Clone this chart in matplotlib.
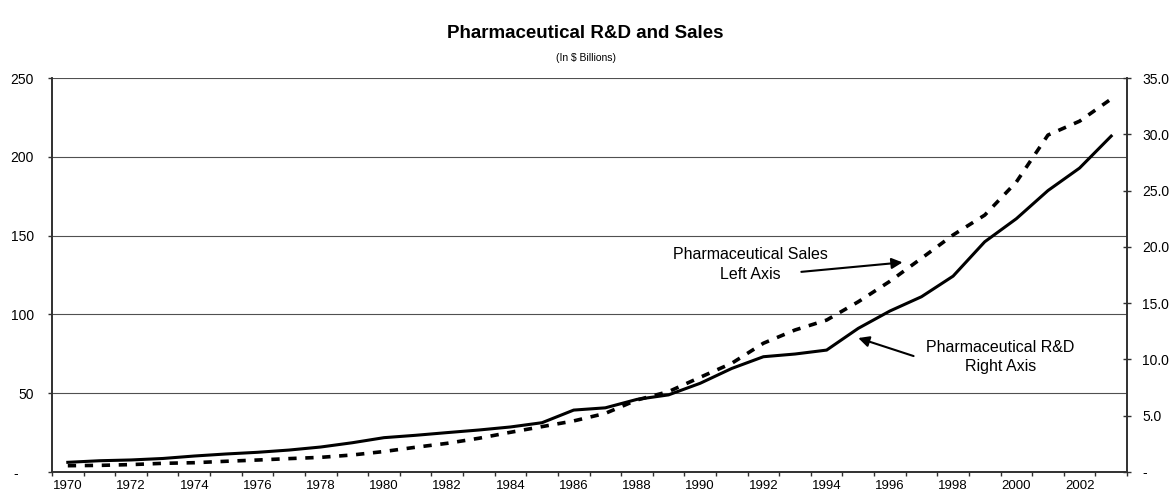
import numpy as np
import matplotlib
matplotlib.use('Agg')
import matplotlib.pyplot as plt
from matplotlib.ticker import FuncFormatter

plt.rcParams['font.family'] = ['Liberation Sans', 'DejaVu Sans']

years = list(range(1970, 2004))

# $ billions
sales = [4.0, 4.2, 4.7, 5.5, 5.9, 6.8, 7.6, 8.5, 9.3, 10.8,
         13.0, 15.7, 18.2, 21.4, 25.2, 28.8, 32.4, 37.2, 45.7, 51.0,
         60.1, 69.0, 81.7, 90.1, 96.4, 108.0, 121.0, 135.6, 150.4, 163.0,
         184.0, 213.8, 222.6, 236.7]
rnd = [0.86, 1.0, 1.07, 1.2, 1.42, 1.6, 1.75, 1.95, 2.22, 2.6,
       3.05, 3.26, 3.5, 3.73, 4.0, 4.38, 5.5, 5.7, 6.45, 6.85,
       7.88, 9.2, 10.24, 10.48, 10.83, 12.76, 14.3, 15.57, 17.4, 20.45,
       22.5, 25.0, 27.0, 29.84]

left_ticks = [0, 50, 100, 150, 200, 250]
right_ticks = [0, 5, 10, 15, 20, 25, 30, 35]

x = np.arange(len(years))

fig = plt.figure(figsize=(11.71, 4.95), dpi=100)
ax1 = fig.add_axes([52 / 1171, 23 / 495, 1075 / 1171, 394 / 495])
ax2 = ax1.twinx()

ax1.set_xlim(-0.5, len(years) - 0.5)
ax1.set_ylim(0, 250)
ax2.set_ylim(0, 35)

# sales on the left scale, R&D on the right scale
ax1.plot(x, sales, color='black', lw=2.6, linestyle=(0, (2.3, 2.4)))
ax2.plot(x, rnd, color='black', lw=2.2, solid_joinstyle='miter')

ax1.set_yticks(left_ticks)
ax1.yaxis.grid(True, color='#505050', lw=0.8)
ax1.set_axisbelow(True)
ax1.yaxis.set_major_formatter(FuncFormatter(lambda v, p: '-    ' if v == 0 else f'{v:.0f}'))
ax2.set_yticks(right_ticks)
ax2.yaxis.set_major_formatter(FuncFormatter(lambda v, p: '-' if v == 0 else f'{v:.1f}'))

# category axis: ticks between years, labels every other year
ax1.set_xticks(np.arange(-0.5, len(years)), labels=[''] * (len(years) + 1))
ax1.set_xticks(x[::2], labels=[str(y) for y in years[::2]], minor=True)
ax1.tick_params(axis='x', which='major', direction='out', length=3, width=1, color='#303030')
ax1.tick_params(axis='x', which='minor', length=0, pad=6, labelsize=9.5)
ax1.tick_params(axis='y', direction='out', length=3, width=1, color='#303030', pad=10, labelsize=10)
ax2.tick_params(axis='y', direction='inout', length=6, width=1, color='#303030', pad=8, labelsize=10)

for ax in (ax1, ax2):
    ax.spines['top'].set_visible(False)
    for s in ('left', 'right', 'bottom'):
        ax.spines[s].set_color('#303030')
        ax.spines[s].set_linewidth(1.2)

arrow = dict(arrowstyle='-|>', color='black', lw=1.5, mutation_scale=16, shrinkA=0, shrinkB=0)
ax1.annotate('', xy=(26.4, 133), xytext=(23.2, 127), arrowprops=arrow)
ax1.text(21.6, 131.7, 'Pharmaceutical Sales\nLeft Axis', ha='center', va='center',
         fontsize=11.5, linespacing=1.35)
ax2.annotate('', xy=(25.0, 11.9), xytext=(26.75, 10.3), arrowprops=arrow)
ax2.text(29.5, 10.2, 'Pharmaceutical R&D\nRight Axis', ha='center', va='center',
         fontsize=11.5, linespacing=1.35)

fig.text(0.5, 1 - 34 / 495, 'Pharmaceutical R&D and Sales', ha='center', va='center',
         fontsize=13.5, fontweight='bold')
fig.text(0.5, 1 - 58 / 495, '(In $ Billions)', ha='center', va='center', fontsize=7.5)

fig.savefig('out.png', dpi=100)
